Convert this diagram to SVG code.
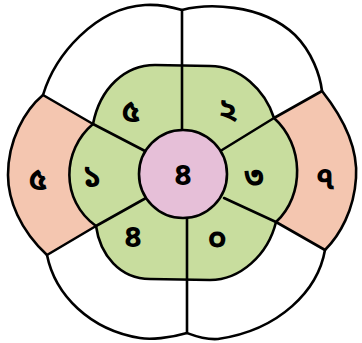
<svg xmlns="http://www.w3.org/2000/svg" width="362" height="343" viewBox="0 0 362 343">
<style>
.ln{fill:none;stroke:#000;stroke-width:2.6;stroke-linejoin:round;stroke-linecap:round}
.t{font-family:"Noto Sans Bengali","Noto Sans","Noto Sans CJK SC",sans-serif;font-size:32px;font-weight:bold;text-anchor:middle;dominant-baseline:central;fill:#000}
</style>
<rect width="362" height="343" fill="#fff"/>
<g id="outer">
<path d="M182,10 C205,4 260,2 295,35 C312,52 320,75 322,91 C345,120 358,150 356,178 C354,210 340,235 325,250 C318,290 280,330 218,339 C205,340 195,336 187,333 C170,338 150,340 140,338 C90,330 55,295 47,255 C20,230 8,200 8,175 C8,140 25,110 43,95 C55,55 95,8 145,5 C160,4 172,7 182,10 Z" fill="#fff"/>
</g>
<g id="orange-left">
<path d="M43,95 C25,110 8,140 8,175 C8,200 20,230 47,255 L96,226 C60,200 62,150 93,124 Z" fill="#f4c6b0"/>
<text class="t" x="38" y="182">৫</text>
</g>
<g id="orange-right">
<path d="M322,91 C345,120 358,150 356,178 C354,210 340,235 325,250 L276,222 C305,195 304,145 274,118 Z" fill="#f4c6b0"/>
<text class="t" x="325" y="181">৭</text>
</g>
<g id="green">
<path d="M93,124 C100,88 125,65 155,65 L210,66 C240,66 265,90 274,118 C304,145 305,195 276,222 C268,255 240,280 210,280 L150,279 C120,279 100,255 96,226 C60,200 62,150 93,124 Z" fill="#c8dd9e"/>
</g>
<g id="connectors">
<path class="ln" d="M182,10 C205,4 260,2 295,35 C312,52 320,75 322,91 C345,120 358,150 356,178 C354,210 340,235 325,250 C318,290 280,330 218,339 C205,340 195,336 187,333 C170,338 150,340 140,338 C90,330 55,295 47,255 C20,230 8,200 8,175 C8,140 25,110 43,95 C55,55 95,8 145,5 C160,4 172,7 182,10 Z"/>
<path class="ln" d="M93,124 C100,88 125,65 155,65 L210,66 C240,66 265,90 274,118 C304,145 305,195 276,222 C268,255 240,280 210,280 L150,279 C120,279 100,255 96,226 C60,200 62,150 93,124 Z"/>
<path class="ln" d="M182,10 L182,135"/>
<path class="ln" d="M187,215 L187,333"/>
<path class="ln" d="M43,95 L93,124 L145,151"/>
<path class="ln" d="M322,91 L274,118 L222,150"/>
<path class="ln" d="M47,255 L96,226 L146,198"/>
<path class="ln" d="M325,250 L276,222 L224,198"/>
</g>
<g id="center">
<circle cx="183" cy="174" r="44" fill="#e6bfd8" stroke="#000" stroke-width="2.6"/>
<text class="t" x="183" y="177">৪</text>
</g>
<g id="g5"><text class="t" x="131" y="114">৫</text></g>
<g id="g2"><text class="t" x="228" y="112">২</text></g>
<g id="g1"><text class="t" x="92" y="179">১</text></g>
<g id="g3"><text class="t" x="254" y="179">৩</text></g>
<g id="g4"><text class="t" x="133" y="239">৪</text></g>
<g id="g0"><text class="t" x="217" y="242">০</text></g>
</svg>
